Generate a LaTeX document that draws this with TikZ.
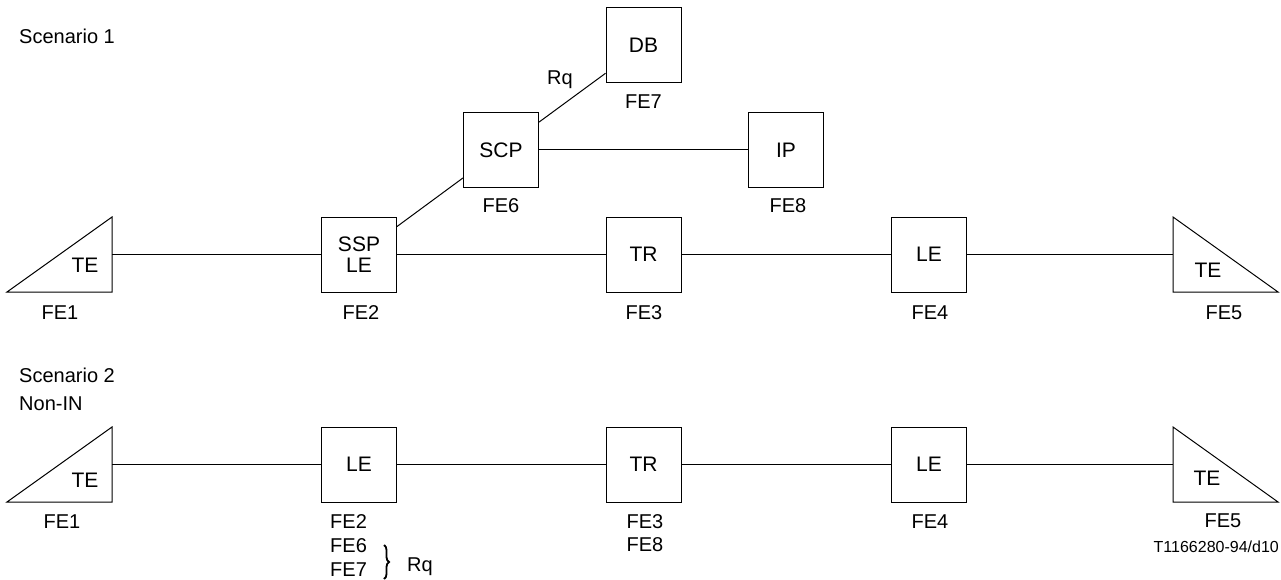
\documentclass[tikz,border=0pt]{standalone}
\usepackage{fontspec}
\setmainfont{Liberation Sans}
\usetikzlibrary{decorations.pathreplacing}
\tikzset{
  box/.style={draw, line width=1pt, minimum width=75pt, minimum height=75pt, inner sep=0pt, align=center, font=\fontsize{21}{23}\selectfont},
  lbl/.style={inner sep=0pt, font=\fontsize{20}{24}\selectfont},
  lbls/.style={inner sep=0pt, font=\fontsize{16}{19}\selectfont},
  conn/.style={line width=1pt},
  tri/.style={draw, line width=1pt, line join=miter}
}
\begin{document}
\begin{tikzpicture}[x=1pt,y=-1pt]
\useasboundingbox (0,0) rectangle (1281,580);
% ---------- Scenario 1 ----------
\node[lbl, anchor=west] (sc1) at (19,36) {Scenario 1};
\node[box] (db) at (643.5,45.5) {DB};
\node[lbl] (fe7) at (643.5,102) {FE7};
\node[box] (scp) at (501,150) {SCP};
\node[lbl] (fe6) at (501,206) {FE6};
\node[box] (ip) at (786,150) {IP};
\node[lbl] (fe8) at (788,206) {FE8};
\node[box] (ssp) at (359,254.5) {SSP\\[-2pt]LE};
\node[lbl] (fe2a) at (361,313) {FE2};
\node[box] (tr1) at (643.5,254.5) {TR};
\node[lbl] (fe3a) at (644,313) {FE3};
\node[box] (le4a) at (929,254.5) {LE};
\node[lbl] (fe4a) at (930,313) {FE4};
\node[lbl] (rq1) at (560,80) {Rq};
% triangles
\draw[tri] (7,292) -- (112,217) -- (112,292) -- cycle;
\node[lbl, font=\fontsize{21}{24}\selectfont] (te1a) at (85,265) {TE};
\coordinate (te1ap) at (112,254.5);
\node[lbl] (fe1a) at (60,313) {FE1};
\draw[tri] (1173,217) -- (1278,292) -- (1173,292) -- cycle;
\node[lbl, font=\fontsize{21}{24}\selectfont] (te5a) at (1208,270) {TE};
\coordinate (te5ap) at (1173,254.5);
\node[lbl] (fe5a) at (1224,313) {FE5};
% connectors
\draw[conn] (te1ap) -- (ssp);
\draw[conn] (ssp) -- (tr1);
\draw[conn] (tr1) -- (le4a);
\draw[conn] (le4a) -- (te5ap);
\draw[conn] (ssp) -- (scp);
\draw[conn] (scp) -- (db);
\draw[conn] (scp) -- (ip);
% ---------- Scenario 2 ----------
\node[lbl, anchor=west] (sc2) at (19,375) {Scenario 2};
\node[lbl, anchor=west] (nonin) at (19,404) {Non-IN};
\draw[tri] (7,502) -- (112,427) -- (112,502) -- cycle;
\node[lbl, font=\fontsize{21}{24}\selectfont] (te1b) at (85,480) {TE};
\coordinate (te1bp) at (112,464.5);
\node[lbl] (fe1b) at (62,522) {FE1};
\node[box] (le2b) at (359,464.5) {LE};
\node[lbl, anchor=west] (fe2b) at (330,522) {FE2};
\node[lbl, anchor=west] (fe6b) at (330,546) {FE6};
\node[lbl, anchor=west] (fe7b) at (330,570) {FE7};
\draw[line width=1.8pt, decorate, decoration={brace, amplitude=5pt}] (384,545) -- (384,579);
\node[lbl] (rq2) at (420,567) {Rq};
\node[box] (tr2) at (643.5,464.5) {TR};
\node[lbl] (fe3b) at (645,522) {FE3};
\node[lbl] (fe8b) at (645,545) {FE8};
\node[box] (le4b) at (929,464.5) {LE};
\node[lbl] (fe4b) at (930,522) {FE4};
\draw[tri] (1173,427) -- (1278,502) -- (1173,502) -- cycle;
\node[lbl, font=\fontsize{21}{24}\selectfont] (te5b) at (1207,478) {TE};
\coordinate (te5bp) at (1173,464.5);
\node[lbl] (fe5b) at (1223,521) {FE5};
\draw[conn] (te1bp) -- (le2b);
\draw[conn] (le2b) -- (tr2);
\draw[conn] (tr2) -- (le4b);
\draw[conn] (le4b) -- (te5bp);
\node[lbls, anchor=east] (code) at (1279,547) {T1166280-94/d10};
\end{tikzpicture}
\end{document}
